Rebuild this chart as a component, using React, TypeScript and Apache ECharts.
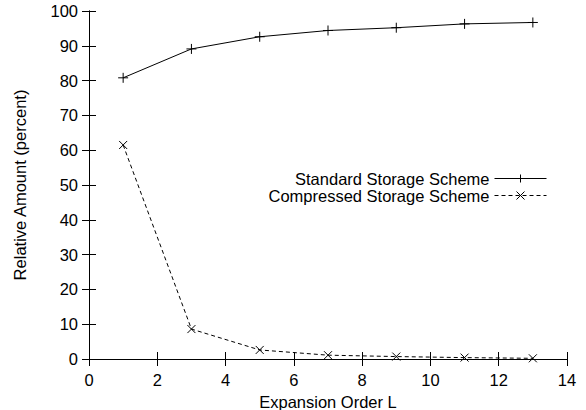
import React, { useEffect, useRef } from "react";
import * as echarts from "echarts";

const orders = [1, 3, 5, 7, 9, 11, 13];
const standardValues = [80.8, 89.1, 92.6, 94.4, 95.2, 96.3, 96.7];
const compressedValues = [61.5, 8.6, 2.6, 1.1, 0.7, 0.4, 0.2];
const seriesNames = ["Standard Storage Scheme", "Compressed Storage Scheme"];
const xAxisName = "Expansion Order L";
const yAxisName = "Relative Amount (percent)";

const FONT = "'Liberation Sans', Arial, Helvetica, sans-serif";
const FS = 16.5;
const PLUS = "path://M0,5L10,5M5,0L5,10";
const CROSS = "path://M0,0L10,10M10,0L0,10";

export default function App() {
  const ref = useRef<HTMLDivElement>(null);
  useEffect(() => {
    if (!ref.current) return;
    const chart = echarts.init(ref.current, undefined, { renderer: "svg" });
    const axisCommon = {
      axisLine: { show: true, lineStyle: { color: "#000", width: 1 } },
      axisTick: { show: true, inside: true, length: 7, lineStyle: { color: "#000", width: 1 } },
      splitLine: { show: false },
    };
    chart.setOption({
      animation: false,
      backgroundColor: "#fff",
      textStyle: { fontFamily: FONT, color: "#000" },
      grid: { left: 89, right: 19, top: 11, bottom: 51, containLabel: false, outerBoundsMode: "none" },
      legend: {
        orient: "vertical",
        align: "right",
        right: 39,
        top: 170,
        padding: 0,
        itemWidth: 52,
        itemHeight: 10,
        itemGap: 0,
        lineStyle: { width: 1 },
        itemStyle: { borderWidth: 1 },
        textStyle: { fontFamily: FONT, fontSize: FS, color: "#000", lineHeight: 14.5 },
        data: seriesNames,
      },
      xAxis: [
        {
          type: "value",
          min: 0,
          max: 14,
          interval: 2,
          position: "bottom",
          name: xAxisName,
          nameLocation: "middle",
          nameGap: 34,
          nameTextStyle: { fontFamily: FONT, fontSize: FS, color: "#000" },
          axisLabel: { fontFamily: FONT, fontSize: FS, color: "#000", margin: 12 },
          ...axisCommon,
        },
        {
          type: "value",
          min: 0,
          max: 14,
          interval: 2,
          position: "top",
          axisLabel: { show: false },
          ...axisCommon,
        },
      ],
      yAxis: [
        {
          type: "value",
          min: 0,
          max: 100,
          interval: 10,
          position: "left",
          name: yAxisName,
          nameLocation: "middle",
          nameGap: 61,
          nameTextStyle: { fontFamily: FONT, fontSize: FS, color: "#000" },
          axisLabel: { fontFamily: FONT, fontSize: FS, color: "#000", margin: 11 },
          ...axisCommon,
        },
        {
          type: "value",
          min: 0,
          max: 100,
          interval: 10,
          position: "right",
          axisLabel: { show: false },
          ...axisCommon,
        },
      ],
      series: [
        {
          name: seriesNames[0],
          type: "line",
          data: orders.map((x, i) => [x, standardValues[i]]),
          symbol: PLUS,
          symbolSize: 10,
          showAllSymbol: true,
          lineStyle: { color: "#000", width: 1, type: "solid" },
          itemStyle: { color: "rgba(0,0,0,0)", borderColor: "#000", borderWidth: 1 },
          emphasis: { disabled: true },
        },
        {
          name: seriesNames[1],
          type: "line",
          data: orders.map((x, i) => [x, compressedValues[i]]),
          symbol: CROSS,
          symbolSize: 8,
          showAllSymbol: true,
          lineStyle: { color: "#000", width: 1, type: [4, 3] },
          itemStyle: { color: "rgba(0,0,0,0)", borderColor: "#000", borderWidth: 1 },
          emphasis: { disabled: true },
        },
      ],
    });
    return () => chart.dispose();
  }, []);
  return <div ref={ref} style={{ width: 586, height: 410, position: "absolute", left: 0, top: 0 }} />;
}
